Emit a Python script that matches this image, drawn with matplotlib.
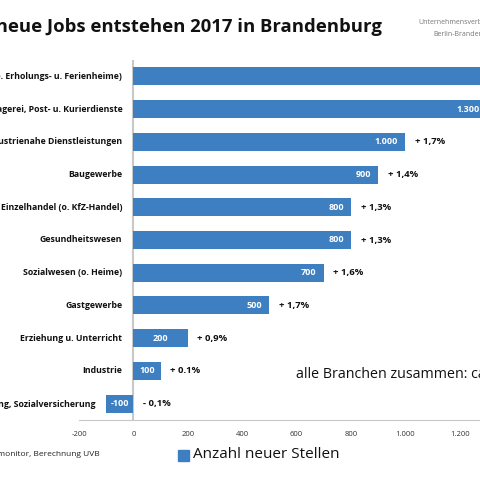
import matplotlib
matplotlib.use("Agg")
import matplotlib.pyplot as plt
from matplotlib.patches import Rectangle
from matplotlib import font_manager

names = {f.name for f in font_manager.fontManager.ttflist}
narrow = ['Liberation Sans Narrow', 'DejaVu Sans'] if 'Liberation Sans Narrow' in names else ['Open Sans', 'DejaVu Sans']
plt.rcParams['font.family'] = ['Open Sans', 'DejaVu Sans']

categories = ["Heime (o. Erholungs- u. Ferienheime)", "Spedition, Lagerei, Post- u. Kurierdienste",
              "Industrienahe Dienstleistungen", "Baugewerbe", "Einzelhandel (o. KfZ-Handel)",
              "Gesundheitswesen", "Sozialwesen (o. Heime)", "Gastgewerbe",
              "Erziehung u. Unterricht", "Industrie", "Öffentliche Verwaltung, Sozialversicherung"]
values = [1500, 1300, 1000, 900, 800, 800, 700, 500, 200, 100, -100]
value_labels = ["1.500", "1.300", "1.000", "900", "800", "800", "700", "500", "200", "100", "-100"]
pct_labels = ["+ 1,5%", "+ 2,0%", "+ 1,7%", "+ 1,4%", "+ 1,3%", "+ 1,3%", "+ 1,6%", "+ 1,7%",
              "+ 0,9%", "+ 0.1%", "- 0,1%"]
xticks = [-200, 0, 200, 400, 600, 800, 1000, 1200, 1400]
xticklabels = ["-200", "0", "200", "400", "600", "800", "1.000", "1.200", "1.400"]

blue = "#3d7fc1"
fig = plt.figure(figsize=(4.8, 4.8), dpi=100)
ax = fig.add_axes([79/480, 0.125, 435/480, 0.75])
ys = list(range(len(values)))[::-1]
ax.barh(ys, values, height=0.55, color=blue, zorder=2)
ax.set_xlim(-200, 1400)
ax.set_ylim(-0.5, 10.5)
ax.axvline(0, color="#c8c8c8", lw=1.5, zorder=1)
for s in ["top", "right", "left"]:
    ax.spines[s].set_visible(False)
ax.spines["bottom"].set_color("#c8c8c8")
ax.set_yticks([])
ax.set_xticks(xticks)
ax.set_xticklabels(xticklabels, fontsize=5.5, color="#333333")
ax.tick_params(axis="x", length=0, pad=8)

for y, v, vl, pl, c in zip(ys, values, value_labels, pct_labels, categories):
    left = min(0, v)
    ax.annotate(c, (left, y), xytext=(-8, 0), textcoords="offset points", ha="right", va="center",
                fontsize=6.3, fontweight="bold", color="#111111", annotation_clip=False, family=narrow)
    if abs(v) >= 300:
        ax.annotate(vl, (v, y), xytext=(-5, 0), textcoords="offset points", ha="right", va="center",
                    fontsize=6.5, fontweight="bold", color="white", annotation_clip=False, family=narrow)
    else:
        ax.text(v/2, y, vl, ha="center", va="center", fontsize=6.5, fontweight="bold", color="white", family=narrow)
    ax.annotate(pl, (max(0, v), y), xytext=(7, 0), textcoords="offset points", ha="left", va="center",
                fontsize=6.8, fontweight="bold", color="#111111", annotation_clip=False, family=narrow)

fig.text(382/480, 1 - 26/480, "Über 10.000 neue Jobs entstehen 2017 in Brandenburg", ha="right", va="center",
         fontsize=13.3, fontweight="bold", color="#111111")
fig.text(418/480, 1 - 22/480, "Unternehmensverbände", ha="left", va="center", fontsize=5, color="#777777")
fig.text(433/480, 1 - 35/480, "Berlin-Brandenburg", ha="left", va="center", fontsize=5, color="#777777")
fig.text(296/480, 1 - 375/480, "alle Branchen zusammen: ca. 10.000", ha="left", va="center", fontsize=10.3, color="#111111")
fig.text(100/480, 1 - 455/480, "Quelle: IHK-Konjunkturmonitor, Berechnung UVB", ha="right", va="center",
         fontsize=6, color="#222222")
fig.patches.append(Rectangle((178/480, 1 - 461/480), 11/480, 11/480, transform=fig.transFigure,
                             color=blue, figure=fig))
fig.text(193/480, 1 - 455/480, "Anzahl neuer Stellen", ha="left", va="center", fontsize=11, color="#111111")

fig.savefig("out.png", dpi=100)
